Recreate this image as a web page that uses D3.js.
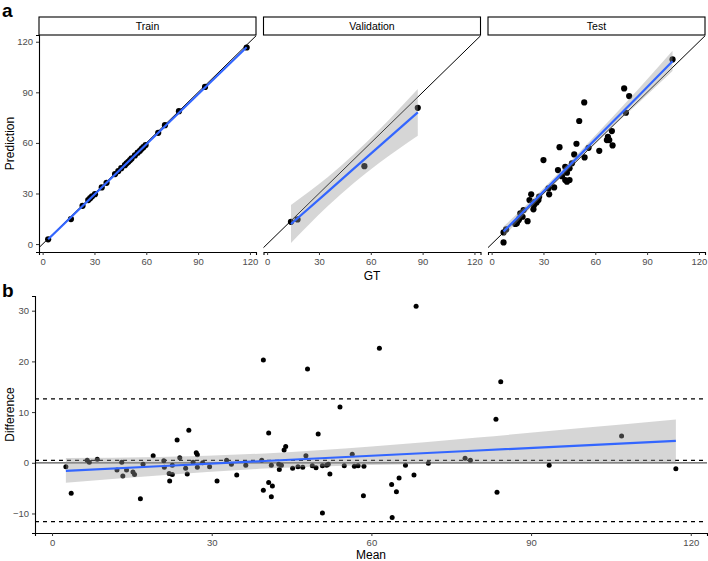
<!DOCTYPE html>
<html>
<head>
<meta charset="utf-8">
<script src="https://cdn.jsdelivr.net/npm/d3@7"></script>
<style>
  body { margin: 0; background: #fff; }
  svg { font-family: "Liberation Sans", Arial, sans-serif; }
</style>
</head>
<body>
<div id="chart"></div>
<script>
// ---- data ----
const facets = ["Train", "Validation", "Test"];
const axisTicks = [0, 30, 60, 90, 120];

const trainGT   = [3.2, 16.4, 23.1, 26.4, 27.5, 28.6, 30.3, 34.2, 37.0, 41.9, 43.8, 45.5, 47.6, 48.6, 49.6, 50.6, 51.5, 53.4, 55.0, 56.3, 57.3, 58.3, 59.6, 66.9, 70.8, 78.9, 94.0, 118.1];
const trainPred = [2.8, 14.8, 22.7, 26.1, 27.2, 28.3, 29.6, 33.6, 36.3, 41.5, 43.3, 45.0, 46.8, 47.9, 48.8, 49.8, 50.8, 52.6, 54.2, 55.3, 56.5, 57.5, 58.7, 66.0, 70.5, 78.8, 93.2, 116.6];
const trainFit  = { x: [3.2, 118.1], y: [2.9, 116.7] };

const valGT   = [13.8, 17.6, 56.3, 87.2];
const valPred = [13.2, 14.6, 46.2, 80.8];
const valFit  = { x: [13.8, 35, 50, 65, 87.2], y: [11.9, 31.0, 44.6, 58.1, 78.1],
                  lo: [0.6, 22.4, 36.1, 48.2, 64.2], hi: [23.2, 39.6, 53.1, 68.0, 92.0] };

const testGT   = [104.7, 76.7, 79.6, 77.7, 53.6, 50.7, 69.6, 67.3, 66.7, 68.1, 70.0, 62.3, 39.3, 49.1, 56.1, 47.8, 53.8, 30.0, 46.5, 42.6, 38.4, 45.1, 43.6, 40.7, 42.6, 45.1, 43.6, 36.2, 33.3, 32.9, 27.5, 22.9, 21.9, 25.2, 24.2, 18.5, 20.8, 15.6, 13.7, 8.4, 6.9, 6.9, 16.6, 27.1, 17.9, 16.1, 14.6, 24.5, 26.0];
const testPred = [109.5, 92.3, 87.8, 77.9, 84.0, 73.0, 67.0, 63.6, 61.7, 61.7, 58.5, 55.3, 57.5, 59.5, 57.1, 53.2, 51.4, 49.8, 47.9, 45.8, 43.9, 44.9, 42.3, 40.3, 38.0, 38.0, 37.0, 33.6, 29.5, 33.0, 28.1, 29.5, 26.1, 25.1, 20.6, 20.2, 13.6, 14.2, 11.9, 8.7, 6.9, 1.0, 18.2, 26.1, 16.2, 15.2, 12.3, 23.0, 24.6];
const testFit  = { x: [6.9, 25, 40, 55, 70, 85, 104.7], y: [7.4, 26.0, 41.5, 56.9, 72.4, 87.8, 108.4],
                   lo: [4.4, 24.0, 39.7, 54.7, 69.4, 83.6, 102.6], hi: [10.4, 28.0, 43.3, 59.1, 75.4, 92.0, 114.6] };

const bMean = [2.6, 3.6, 6.6, 7.0, 8.5, 12.2, 13.1, 13.3, 14.0, 15.2, 15.5, 16.6, 17.1, 19.0, 21.0, 21.1, 22.0, 22.1, 22.6, 22.6, 23.5, 24.0, 25.1, 25.4, 25.7, 26.5, 27.1, 27.3, 27.3, 28.3, 29.6, 31.0, 32.8, 33.7, 34.7, 36.4, 39.4, 39.7, 39.7, 40.7, 40.7, 41.4, 41.2, 41.2, 42.6, 42.7, 43.1, 43.6, 43.9, 45.2, 46.2, 47.1, 47.7, 48.0, 48.9, 49.6, 50.0, 50.8, 50.8, 51.6, 51.9, 52.2, 54.1, 54.9, 56.4, 56.8, 57.5, 58.6, 58.5, 61.5, 63.8, 63.9, 64.7, 65.2, 66.4, 68.0, 68.4, 70.7, 77.6, 78.6, 83.4, 83.6, 84.3, 93.4, 107.0, 117.2];
const bDiff = [-0.8, -6.0, 0.5, 0.1, 0.7, -1.4, 0.1, -2.6, -1.4, -1.8, -2.3, -7.1, -0.3, 1.4, 0.4, -0.9, -2.1, -3.6, -2.3, -0.5, 4.5, 1.0, -1.1, -2.2, 6.4, 0.1, 2.0, 1.6, -0.9, 0.0, -0.8, -3.6, 0.5, -0.3, -2.4, -0.5, 0.5, 20.3, -5.4, 5.9, -3.9, -4.6, -6.7, -0.5, -0.3, -1.3, -0.5, 2.5, 3.2, -1.1, -0.8, -0.9, 1.4, 18.5, -0.6, -1.0, 5.7, -0.6, -9.9, -0.5, -0.3, -2.2, 11.0, -0.6, 1.7, -0.7, -0.6, -0.7, -6.5, 22.6, -4.3, -10.8, -5.7, -3.0, -0.5, -2.4, 30.9, -0.1, 0.9, 0.5, 8.6, -5.8, 16.0, -0.5, 5.3, -1.2];
const bFit = { x: [2.6, 20, 40, 60, 80, 100, 117.2], y: [-1.58, -0.68, 0.35, 1.39, 2.42, 3.45, 4.34],
               lo: [-3.95, -2.5, -1.15, -0.43, -0.14, 0.0, 0.12], hi: [0.95, 1.14, 1.85, 3.21, 4.98, 6.9, 8.56] };
const bMeanTicks = [0, 30, 60, 90, 120];
const bDiffTicks = [-10, 0, 10, 20, 30];
const limits = { upper: 12.6, bias: 0.47, lower: -11.6 };

const W = 708, H = 561;
const tickGrey = "#4d4d4d";
const fitBlue = "#3366FF";

const svg = d3.select("#chart").append("svg")
    .attr("width", W).attr("height", H);
svg.append("rect").attr("width", W).attr("height", H).attr("fill", "#fff");

// ---------- panel a ----------
const panelLefts = [39, 263.5, 488];
const panelW = 217;
const aTop = 35, aBottom = 252, stripTop = 17;

const yA = d3.scaleLinear().domain([-4.7, 124]).range([aBottom, aTop]);

const facetData = [
    { gt: trainGT, pred: trainPred, fit: trainFit },
    { gt: valGT, pred: valPred, fit: valFit },
    { gt: testGT, pred: testPred, fit: testFit }
];

svg.append("text").attr("x", 2).attr("y", 17)
    .attr("font-size", 19).attr("font-weight", "bold").text("a");

facets.forEach((name, i) => {
    const left = panelLefts[i];
    const xA = d3.scaleLinear().domain([-2.1, 123.5]).range([left, left + panelW]);
    const g = svg.append("g");
    const clipId = "clip" + i;
    svg.append("clipPath").attr("id", clipId).append("rect")
        .attr("x", left).attr("y", aTop).attr("width", panelW).attr("height", aBottom - aTop);
    const inner = g.append("g").attr("clip-path", `url(#${clipId})`);

    // identity line
    inner.append("line")
        .attr("x1", xA(-10)).attr("y1", yA(-10))
        .attr("x2", xA(130)).attr("y2", yA(130))
        .attr("stroke", "#000").attr("stroke-width", 1);

    const d = facetData[i];
    inner.selectAll(".pt").data(d.gt).enter().append("circle")
        .attr("cx", (v) => xA(v))
        .attr("cy", (v, j) => yA(d.pred[j]))
        .attr("r", 3.1).attr("fill", "#000");

    if (d.fit.lo) {
        const area = d3.area()
            .x((v) => xA(v))
            .y0((v, j) => yA(d.fit.lo[j]))
            .y1((v, j) => yA(d.fit.hi[j]))
            .curve(d3.curveMonotoneX);
        inner.append("path").datum(d.fit.x).attr("d", area)
            .attr("fill", "#999").attr("fill-opacity", 0.4);
    }
    const line = d3.line().x((v) => xA(v)).y((v, j) => yA(d.fit.y[j]));
    inner.append("path").datum(d.fit.x).attr("d", line)
        .attr("fill", "none").attr("stroke", fitBlue).attr("stroke-width", 2.2);

    // strip
    g.append("rect").attr("x", left).attr("y", stripTop)
        .attr("width", panelW).attr("height", aTop - stripTop)
        .attr("fill", "#fff").attr("stroke", "#000").attr("stroke-width", 1.1);
    g.append("text").attr("x", left + panelW / 2).attr("y", 30)
        .attr("text-anchor", "middle").attr("font-size", 10.5).text(name);

    // bottom axis
    const ax = g.append("g").attr("transform", `translate(0,${aBottom})`)
        .call(d3.axisBottom(xA).tickValues(axisTicks).tickSize(3).tickPadding(3));
    ax.select(".domain").attr("stroke", "#000").attr("stroke-width", 1.1);
    ax.selectAll(".tick line").attr("stroke", "#333");
    ax.selectAll("text").attr("fill", tickGrey).attr("font-size", 9.5)
        .attr("font-family", "Liberation Sans, Arial, sans-serif");

    if (i === 0) {
        const ay = g.append("g").attr("transform", `translate(${left},0)`)
            .call(d3.axisLeft(yA).tickValues(axisTicks).tickSize(3).tickPadding(3));
        ay.select(".domain").attr("stroke", "#000").attr("stroke-width", 1.1);
        ay.selectAll(".tick line").attr("stroke", "#333");
        ay.selectAll("text").attr("fill", tickGrey).attr("font-size", 9.5)
            .attr("font-family", "Liberation Sans, Arial, sans-serif");
    }
});

svg.append("text").attr("x", 372).attr("y", 280)
    .attr("text-anchor", "middle").attr("font-size", 12).text("GT");
svg.append("text")
    .attr("transform", `translate(14,${(aTop + aBottom) / 2}) rotate(-90)`)
    .attr("text-anchor", "middle").attr("font-size", 12).text("Prediction");

// ---------- panel b ----------
const bLeft = 35, bRight = 707, bTop = 296, bBottom = 533;
const xB = d3.scaleLinear().domain([-3.2, 123.05]).range([bLeft, bRight]);
const yB = d3.scaleLinear().domain([-13.85, 32.9]).range([bBottom, bTop]);

svg.append("text").attr("x", 2).attr("y", 297)
    .attr("font-size", 19).attr("font-weight", "bold").text("b");

const gb = svg.append("g");
gb.append("line").attr("x1", bLeft).attr("x2", bRight)
    .attr("y1", yB(0)).attr("y2", yB(0))
    .attr("stroke", "#555").attr("stroke-width", 1.3);
[limits.upper, limits.bias, limits.lower].forEach((v) => {
    gb.append("line").attr("x1", bLeft).attr("x2", bRight)
        .attr("y1", yB(v)).attr("y2", yB(v))
        .attr("stroke", "#000").attr("stroke-width", 1.1)
        .attr("stroke-dasharray", "4,4");
});

gb.selectAll(".bpt").data(bMean).enter().append("circle")
    .attr("cx", (v) => xB(v))
    .attr("cy", (v, j) => yB(bDiff[j]))
    .attr("r", 2.5).attr("fill", "#000");

const bArea = d3.area()
    .x((v) => xB(v))
    .y0((v, j) => yB(bFit.lo[j]))
    .y1((v, j) => yB(bFit.hi[j]))
    .curve(d3.curveMonotoneX);
gb.append("path").datum(bFit.x).attr("d", bArea)
    .attr("fill", "#999").attr("fill-opacity", 0.4);
gb.append("path").datum(bFit.x)
    .attr("d", d3.line().x((v) => xB(v)).y((v, j) => yB(bFit.y[j])))
    .attr("fill", "none").attr("stroke", fitBlue).attr("stroke-width", 2.2);

const bx = gb.append("g").attr("transform", `translate(0,${bBottom})`)
    .call(d3.axisBottom(xB).tickValues(bMeanTicks).tickSize(3).tickPadding(3));
bx.select(".domain").attr("stroke", "#000").attr("stroke-width", 1.1);
bx.selectAll(".tick line").attr("stroke", "#333");
bx.selectAll("text").attr("fill", tickGrey).attr("font-size", 9.5)
    .attr("font-family", "Liberation Sans, Arial, sans-serif");

const by = gb.append("g").attr("transform", `translate(${bLeft},0)`)
    .call(d3.axisLeft(yB).tickValues(bDiffTicks).tickSize(3).tickPadding(3));
by.select(".domain").attr("stroke", "#000").attr("stroke-width", 1.1);
by.selectAll(".tick line").attr("stroke", "#333");
by.selectAll("text").attr("fill", tickGrey).attr("font-size", 9.5)
    .attr("font-family", "Liberation Sans, Arial, sans-serif");

svg.append("text").attr("x", (bLeft + bRight) / 2).attr("y", 559)
    .attr("text-anchor", "middle").attr("font-size", 12).text("Mean");
svg.append("text")
    .attr("transform", `translate(14,${(bTop + bBottom) / 2}) rotate(-90)`)
    .attr("text-anchor", "middle").attr("font-size", 12).text("Difference");
</script>
</body>
</html>
